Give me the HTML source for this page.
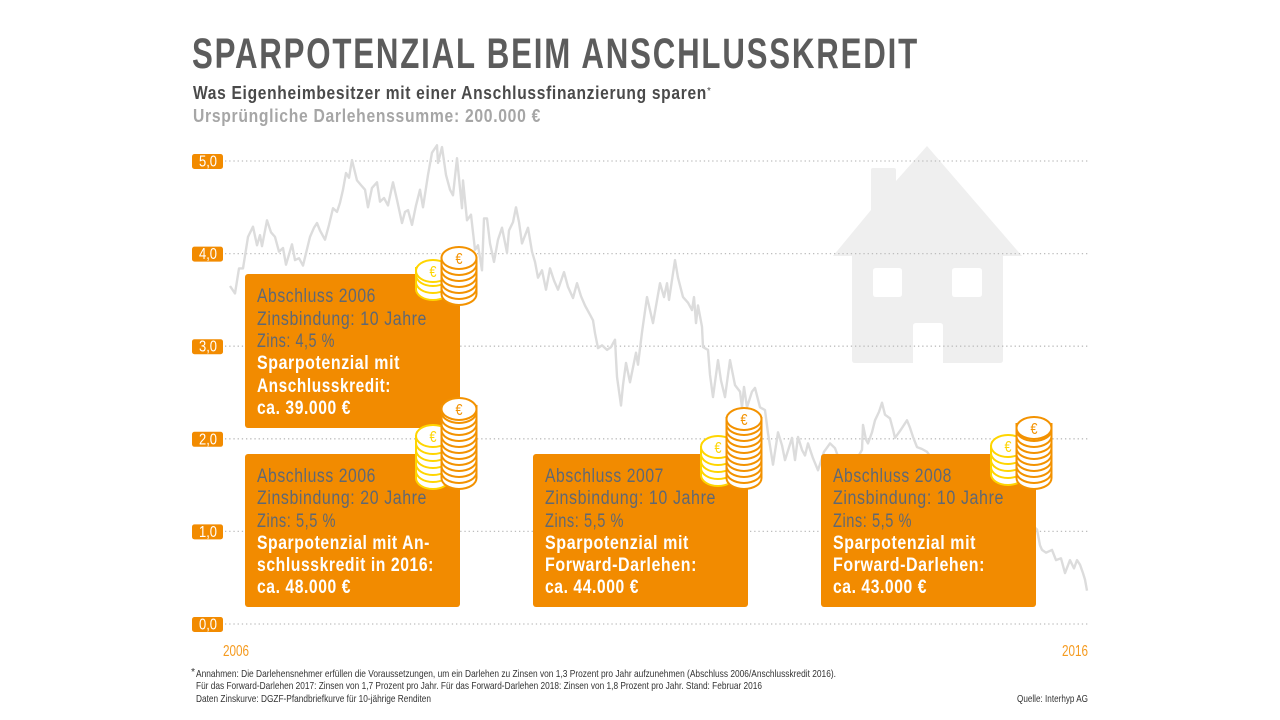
<!DOCTYPE html>
<html lang="de">
<head>
<meta charset="utf-8">
<title>Sparpotenzial beim Anschlusskredit</title>
<style>
html,body{margin:0;padding:0;background:#fff;width:1280px;height:720px;overflow:hidden}
svg{display:block;font-family:"Liberation Sans",Arial,sans-serif}
.reg{font-size:19px;fill:#5f6874;letter-spacing:.7px}
.wht{font-size:19px;fill:#fff;font-weight:bold;letter-spacing:.7px}
.foot{font-size:10.5px;fill:#333}
</style>
</head>
<body>
<svg id="chart" width="1280" height="720" viewBox="0 0 1280 720" xmlns="http://www.w3.org/2000/svg">
  <text x="192" y="68" font-size="43" font-weight="bold" fill="#5c5c5c" letter-spacing="2.5" textLength="727" lengthAdjust="spacingAndGlyphs">SPARPOTENZIAL BEIM ANSCHLUSSKREDIT</text>
  <text x="193" y="99" font-size="18" font-weight="bold" fill="#4a4a4a" letter-spacing="0.8" textLength="514" lengthAdjust="spacingAndGlyphs">Was Eigenheimbesitzer mit einer Anschlussfinanzierung sparen</text>
  <text x="707" y="94" font-size="10" fill="#464646">*</text>
  <text x="193" y="122" font-size="18" font-weight="bold" fill="#a6a6a6" letter-spacing="0.8" textLength="348" lengthAdjust="spacingAndGlyphs">Ursprüngliche Darlehenssumme: 200.000 €</text>

  <g fill="#efefef">
    <path fill-rule="evenodd" d="M927 146 L1022 256 L1003 256 L1003 360 Q1003 363 1000 363 L943 363 L943 326 Q943 323 940 323 L916 323 Q913 323 913 326 L913 363 L855 363 Q852 363 852 360 L852 256 L833 256 L871 210 L871 170 Q871 168 873 168 L894 168 Q896 168 896 170 L896 181 Z M876 268 Q873 268 873 271 L873 294 Q873 297 876 297 L899 297 Q902 297 902 294 L902 271 Q902 268 899 268 Z M955 268 Q952 268 952 271 L952 294 Q952 297 955 297 L979 297 Q982 297 982 294 L982 271 Q982 268 979 268 Z"/>
  </g>

  <g id="grid"></g>
  <g id="series"></g>
  <g id="yticks"></g>
  <g id="xticks"></g>

  <g>
    <rect x="245" y="274" width="215" height="154" rx="3" fill="#f28b00"/>
    <text class="reg" x="257" y="302" textLength="119" lengthAdjust="spacingAndGlyphs">Abschluss 2006</text>
    <text class="reg" x="257" y="325" textLength="170" lengthAdjust="spacingAndGlyphs">Zinsbindung: 10 Jahre</text>
    <text class="reg" x="257" y="347" textLength="78" lengthAdjust="spacingAndGlyphs">Zins: 4,5 %</text>
    <text class="wht" x="257" y="369" textLength="143" lengthAdjust="spacingAndGlyphs">Sparpotenzial mit</text>
    <text class="wht" x="257" y="392" textLength="134" lengthAdjust="spacingAndGlyphs">Anschlusskredit:</text>
    <text class="wht" x="257" y="414" textLength="94" lengthAdjust="spacingAndGlyphs">ca. 39.000 €</text>
  </g>
  <g>
    <rect x="245" y="454" width="215" height="153" rx="3" fill="#f28b00"/>
    <text class="reg" x="257" y="482" textLength="119" lengthAdjust="spacingAndGlyphs">Abschluss 2006</text>
    <text class="reg" x="257" y="504" textLength="170" lengthAdjust="spacingAndGlyphs">Zinsbindung: 20 Jahre</text>
    <text class="reg" x="257" y="527" textLength="79" lengthAdjust="spacingAndGlyphs">Zins: 5,5 %</text>
    <text class="wht" x="257" y="549" textLength="173" lengthAdjust="spacingAndGlyphs">Sparpotenzial mit An-</text>
    <text class="wht" x="257" y="571" textLength="177" lengthAdjust="spacingAndGlyphs">schlusskredit in 2016:</text>
    <text class="wht" x="257" y="593" textLength="94" lengthAdjust="spacingAndGlyphs">ca. 48.000 €</text>
  </g>
  <g>
    <rect x="533" y="454" width="215" height="153" rx="3" fill="#f28b00"/>
    <text class="reg" x="545" y="482" textLength="119" lengthAdjust="spacingAndGlyphs">Abschluss 2007</text>
    <text class="reg" x="545" y="504" textLength="171" lengthAdjust="spacingAndGlyphs">Zinsbindung: 10 Jahre</text>
    <text class="reg" x="545" y="527" textLength="79" lengthAdjust="spacingAndGlyphs">Zins: 5,5 %</text>
    <text class="wht" x="545" y="549" textLength="144" lengthAdjust="spacingAndGlyphs">Sparpotenzial mit</text>
    <text class="wht" x="545" y="571" textLength="152" lengthAdjust="spacingAndGlyphs">Forward-Darlehen:</text>
    <text class="wht" x="545" y="593" textLength="94" lengthAdjust="spacingAndGlyphs">ca. 44.000 €</text>
  </g>
  <g>
    <rect x="821" y="454" width="215" height="153" rx="3" fill="#f28b00"/>
    <text class="reg" x="833" y="482" textLength="119" lengthAdjust="spacingAndGlyphs">Abschluss 2008</text>
    <text class="reg" x="833" y="504" textLength="171" lengthAdjust="spacingAndGlyphs">Zinsbindung: 10 Jahre</text>
    <text class="reg" x="833" y="527" textLength="79" lengthAdjust="spacingAndGlyphs">Zins: 5,5 %</text>
    <text class="wht" x="833" y="549" textLength="143" lengthAdjust="spacingAndGlyphs">Sparpotenzial mit</text>
    <text class="wht" x="833" y="571" textLength="152" lengthAdjust="spacingAndGlyphs">Forward-Darlehen:</text>
    <text class="wht" x="833" y="593" textLength="94" lengthAdjust="spacingAndGlyphs">ca. 43.000 €</text>
  </g>

  <g id="coins"></g>

  <g>
    <text class="foot" x="191" y="675" font-size="9">*</text>
    <text class="foot" x="196" y="677" textLength="640" lengthAdjust="spacingAndGlyphs">Annahmen: Die Darlehensnehmer erfüllen die Voraussetzungen, um ein Darlehen zu Zinsen von 1,3 Prozent pro Jahr aufzunehmen (Abschluss 2006/Anschlusskredit 2016).</text>
    <text class="foot" x="196" y="689" textLength="566" lengthAdjust="spacingAndGlyphs">Für das Forward-Darlehen 2017: Zinsen von 1,7 Prozent pro Jahr. Für das Forward-Darlehen 2018: Zinsen von 1,8 Prozent pro Jahr. Stand: Februar 2016</text>
    <text class="foot" x="196" y="702" textLength="235" lengthAdjust="spacingAndGlyphs">Daten Zinskurve: DGZF-Pfandbriefkurve für 10-jährige Renditen</text>
    <text class="foot" x="1017" y="702" textLength="71" lengthAdjust="spacingAndGlyphs">Quelle: Interhyp AG</text>
  </g>
</svg>

<script>
const yTickValues = [5, 4, 3, 2, 1, 0];
const yTickLabels = ["5,0", "4,0", "3,0", "2,0", "1,0", "0,0"];
const xTickLabels = ["2006", "2016"];
const tradingDays = [0,15,27,39,54,69,81,90,96,111,123,135,147,159,168,186,195,207,219,240,252,261,270,285,297,309,321,330,339,348,357,366,381,393,405,414,426,441,450,462,474,489,501,516,525,534,546,558,570,579,594,606,621,624,636,648,660,669,681,696,699,711,723,735,744,756,762,771,780,792,804,816,831,837,849,858,867,876,894,906,915,924,936,948,960,972,984,1002,1014,1029,1041,1053,1065,1080,1089,1095,1104,1116,1131,1143,1155,1161,1173,1179,1188,1200,1218,1224,1236,1251,1260,1269,1290,1302,1311,1317,1335,1344,1359,1374,1386,1392,1398,1404,1416,1419,1434,1440,1449,1464,1473,1485,1500,1515,1530,1536,1542,1551,1566,1575,1590,1605,1614,1629,1644,1656,1665,1686,1695,1704,1716,1725,1734,1749,1764,1782,1800,1815,1830,1854,1875,1896,1899,1908,1914,1926,1935,1947,1956,1965,1980,1989,1995,2013,2031,2040,2049,2061,2076,2091,2130,2175,2220,2265,2310,2355,2400,2415,2421,2430,2436,2448,2466,2478,2493,2505,2520,2532,2541,2550,2559,2565,2571];
const yields = [3.65,3.57,3.84,3.84,4.18,4.29,4.09,4.20,4.08,4.36,4.23,4.18,4.02,4.06,3.88,4.10,3.93,3.95,3.87,4.18,4.28,4.33,4.25,4.15,4.31,4.49,4.45,4.55,4.69,4.87,4.82,5.01,4.79,4.74,4.69,4.50,4.71,4.77,4.56,4.60,4.52,4.77,4.58,4.33,4.45,4.47,4.31,4.52,4.69,4.50,4.85,5.09,5.17,4.98,5.15,4.85,4.69,4.63,5.03,4.49,4.79,4.36,4.42,4.04,4.09,3.82,4.38,4.38,4.11,3.91,4.15,4.28,4.01,4.25,4.34,4.50,4.34,4.11,4.28,4.02,3.91,3.74,3.82,3.61,3.84,3.71,3.61,3.80,3.64,3.52,3.68,3.54,3.44,3.34,3.28,3.14,2.98,3.01,2.96,2.99,3.07,2.67,2.36,2.58,2.82,2.61,2.93,2.80,3.15,3.53,3.39,3.25,3.68,3.53,3.68,3.50,3.93,3.74,3.53,3.47,3.39,3.53,3.25,3.44,3.21,2.99,2.96,2.69,2.45,2.85,2.63,2.45,2.85,2.58,2.51,2.34,2.56,2.34,2.51,2.55,2.34,2.31,2.06,1.72,2.07,1.93,1.77,2.01,1.77,2.02,1.88,1.82,1.95,1.79,1.66,1.86,1.95,1.90,1.75,1.68,1.75,1.88,2.15,1.99,1.95,2.07,2.20,2.29,2.39,2.26,2.22,2.10,2.01,2.10,2.20,2.12,2.02,1.91,1.89,1.86,1.66,1.58,1.45,1.34,1.29,1.21,1.10,1.04,1.02,0.85,0.80,0.77,0.80,0.69,0.71,0.55,0.69,0.60,0.69,0.64,0.55,0.48,0.36];

const NS = "http://www.w3.org/2000/svg";
const xScale = d => 230 + (d / 2574) * 858;
const yScale = v => 624 - v * 92.6;
function make(tag, parent, attrs) {
  const el = document.createElementNS(NS, tag);
  for (const k in attrs) el.setAttribute(k, attrs[k]);
  parent.appendChild(el);
  return el;
}

const gridGroup = document.getElementById("grid");
const yTickGroup = document.getElementById("yticks");
yTickValues.forEach((v, i) => {
  const y = yScale(v);
  const line = make("line", gridGroup, {x1: 225, x2: 1088, y1: y, y2: y, stroke: "#bdbdbd", "stroke-width": 1.3, "stroke-dasharray": "1.3 2.9"});
  
  
  const badge = make("rect", yTickGroup, {x: 192, y: y - 7, width: 31, height: 15, rx: 2.5, fill: "#f28b00"});
  
  
  const label = make("text", yTickGroup, {x: 199, y: y + 5.5, "font-size": 15.5, fill: "#fff", textLength: 18, lengthAdjust: "spacingAndGlyphs"});
  
  
  label.textContent = yTickLabels[i];
});

const xTickGroup = document.getElementById("xticks");
xTickLabels.forEach((t, i) => {
  const label = make("text", xTickGroup, {x: i === 0 ? 223 : 1062, y: 656, "font-size": 16, fill: "#f59a1e", textLength: 26, lengthAdjust: "spacingAndGlyphs"});
  
  
  label.textContent = t;
});

const seriesGroup = document.getElementById("series");
const pathD = tradingDays.map((d, i) => (i ? "L" : "M") + xScale(d).toFixed(1) + " " + yScale(yields[i]).toFixed(1)).join(" ");
const curve = make("path", seriesGroup, {d: pathD, fill: "none", stroke: "#dcdcdc", "stroke-width": 2.4, "stroke-linejoin": "round"});



const coinGroup = document.getElementById("coins");
function stack(cx, top, bottom, rx, ry, step, color, fontSize) {
  const g = make("g", coinGroup, {});
  
  
  const topY = top + ry;
  for (let y = bottom - ry; y > topY + 0.01; y -= step) {
    make("path", g, {d: `M${cx - rx} ${y - step} L${cx - rx} ${y} A${rx} ${ry} 0 0 0 ${cx + rx} ${y} L${cx + rx} ${y - step} Z`, fill: "#fff", stroke: color, "stroke-width": 2});
  }
  make("ellipse", g, {cx: cx, cy: topY, rx: rx, ry: ry, fill: "#fff", stroke: color, "stroke-width": 2});
  const euro = make("text", g, {x: cx - 3.5, y: topY + fontSize * 0.36, "font-size": fontSize, fill: color, textLength: 7, lengthAdjust: "spacingAndGlyphs"});
  euro.textContent = "€";
}
const ORANGE = "#f39200", YELLOW = "#ffd500";
stack(433, 260, 300, 17, 11, 7, YELLOW, 16);
stack(459, 247, 305, 17.5, 11, 6, ORANGE, 16);
stack(433, 425, 489, 17, 11, 7, YELLOW, 16);
stack(459, 398, 489, 17.5, 11, 6, ORANGE, 16);
stack(718, 436, 486, 17, 11, 7, YELLOW, 16);
stack(744, 408, 489, 17.5, 11, 6, ORANGE, 16);
stack(1008, 435, 485, 17, 11, 7, YELLOW, 16);
stack(1034, 417, 489, 17.5, 11, 6, ORANGE, 16);
</script>
</body>
</html>
